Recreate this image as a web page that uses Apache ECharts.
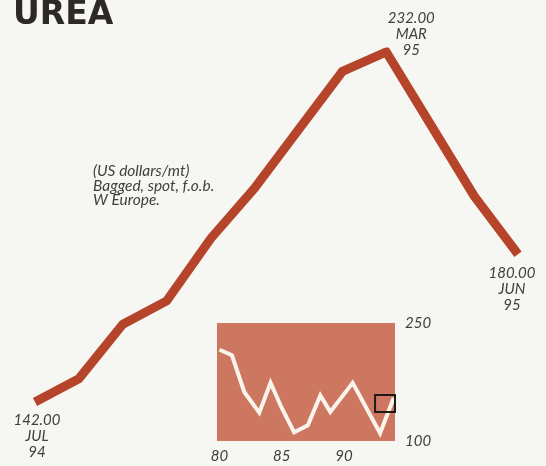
<!DOCTYPE html>
<html>
<head>
<meta charset="utf-8">
<script src="https://cdn.jsdelivr.net/npm/echarts@6/dist/echarts.min.js"></script>
<style>
  html, body { margin: 0; padding: 0; background: #f6f7f3; }
  #chart { width: 546px; height: 466px; }
</style>
</head>
<body>
<div id="chart"></div>
<script>
// Monthly urea price, Jul 1994 - Jun 1995 (US dollars/mt)
const months = ['JUL', 'AUG', 'SEP', 'OCT', 'NOV', 'DEC', 'JAN', 'FEB', 'MAR', 'APR', 'MAY', 'JUN'];
const monthYears = ['94', '94', '94', '94', '94', '94', '95', '95', '95', '95', '95', '95'];
const prices = [142, 148, 162, 168, 184, 197, 212, 227, 232, 213.5, 195, 180];
const labelledPoints = [0, 8, 11];

// Longer-run history for the small panel: [year, price]
const historyYears = [80, 81, 82, 83.2, 84.1, 85, 86, 87.1, 88.1, 88.9, 90.7, 92.9, 94];
const historyPrices = [216, 209, 162, 136, 174, 142, 111, 120, 158, 137, 174, 110, 155];
const historyTicks = [80, 85, 90];
// Box marking the latest period on the long-run panel
const recentBox = [[92.5, 158.5], [94.6, 137]];

const textGrey = '#3f3f3f';
const labelFont = { fontFamily: 'Lato', fontStyle: 'italic', fontSize: 15, color: textGrey };

const mainData = prices.map((v, i) => {
  const item = { value: v };
  if (labelledPoints.includes(i)) {
    const label = {
      show: true,
      formatter: () => v.toFixed(2) + '\n' + months[i] + '\n' + monthYears[i],
      align: 'center',
      lineHeight: 16,
      ...labelFont
    };
    if (i === 0) Object.assign(label, { position: 'bottom', distance: 10, offset: [2, 0] });
    else if (i === 8) Object.assign(label, { position: 'top', distance: 5, offset: [25, 11] });
    else Object.assign(label, { position: 'bottom', distance: 11, offset: [-6, 0] });
    item.label = label;
  }
  return item;
});

const chart = echarts.init(document.getElementById('chart'), null, { renderer: 'canvas' });
chart.setOption({
  backgroundColor: '#f6f7f3',
  animation: false,
  title: [
    {
      text: 'UREA',
      left: 8,
      top: -6,
      textStyle: { fontFamily: 'DejaVu Sans', fontWeight: 'bold', fontSize: 33, color: '#2c2927' }
    },
    {
      text: '(US dollars/mt)\nBagged, spot, f.o.b.\nW Europe.',
      left: 88,
      top: 159,
      textStyle: { fontFamily: 'Lato', fontStyle: 'italic', fontWeight: 'normal', fontSize: 15.5, lineHeight: 14.5, color: textGrey }
    }
  ],
  grid: [
    { left: 35, right: 28, top: 52, bottom: 64 },
    { left: 217, right: 151, top: 323, bottom: 25, show: true, backgroundColor: '#cd7761', borderWidth: 0 }
  ],
  xAxis: [
    {
      gridIndex: 0, type: 'category', data: months, boundaryGap: false, show: false
    },
    {
      gridIndex: 1, type: 'value', min: 79.8, max: 94.1,
      axisLine: { show: false }, axisTick: { show: false }, splitLine: { show: false },
      axisLabel: { customValues: historyTicks, margin: 8, ...labelFont }
    }
  ],
  yAxis: [
    { gridIndex: 0, type: 'value', min: 142, max: 232, show: false },
    {
      gridIndex: 1, type: 'value', position: 'right', min: 100, max: 250, interval: 150,
      axisLine: { show: false }, axisTick: { show: false }, splitLine: { show: false },
      axisLabel: { margin: 10, ...labelFont }
    }
  ],
  series: [
    {
      type: 'line',
      xAxisIndex: 0, yAxisIndex: 0,
      data: mainData,
      symbol: 'circle', symbolSize: 0, showSymbol: true,
      itemStyle: { color: '#b5442a' },
      lineStyle: { color: '#b5442a', width: 9, cap: 'butt', join: 'miter' },
      z: 3
    },
    {
      type: 'line',
      xAxisIndex: 1, yAxisIndex: 1,
      data: historyYears.map((y, i) => [y, historyPrices[i]]),
      symbol: 'none',
      clip: false,
      lineStyle: { color: '#fbf4ec', width: 4, join: 'miter' },
      z: 6,
      markArea: {
        silent: true,
        z: 10,
        itemStyle: { color: 'rgba(0,0,0,0)', borderColor: '#1e1a18', borderWidth: 2 },
        data: [[{ coord: recentBox[0] }, { coord: recentBox[1] }]]
      }
    }
  ]
});
</script>
</body>
</html>
